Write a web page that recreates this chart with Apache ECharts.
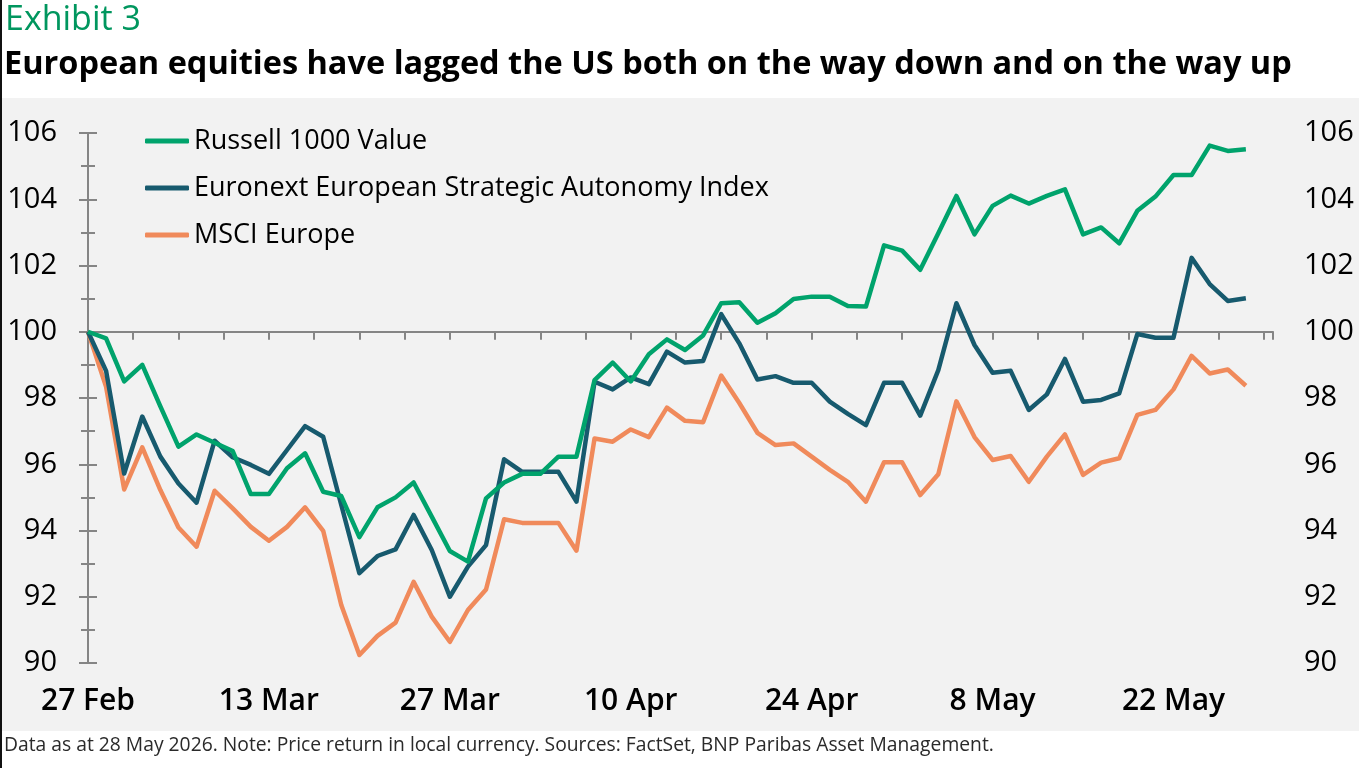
<!DOCTYPE html>
<html>
<head>
<meta charset="utf-8">
<script src="https://cdn.jsdelivr.net/npm/echarts@6/dist/echarts.min.js"></script>
<style>
  html, body { margin: 0; padding: 0; background: #fff; }
  #chart { width: 1359px; height: 768px; box-sizing: border-box; border-left: 2px solid #111; }
</style>
</head>
<body>
<div id="chart"></div>
<script>
// business days, 27 Feb - 29 May 2026 (last slot has no data)
const dates = [
    "27 Feb", "2 Mar", "3 Mar", "4 Mar", "5 Mar", "6 Mar", "9 Mar", "10 Mar", "11 Mar", "12 Mar",
    "13 Mar", "16 Mar", "17 Mar", "18 Mar", "19 Mar", "20 Mar", "23 Mar", "24 Mar", "25 Mar", "26 Mar",
    "27 Mar", "30 Mar", "31 Mar", "1 Apr", "2 Apr", "3 Apr", "6 Apr", "7 Apr", "8 Apr", "9 Apr",
    "10 Apr", "13 Apr", "14 Apr", "15 Apr", "16 Apr", "17 Apr", "20 Apr", "21 Apr", "22 Apr", "23 Apr",
    "24 Apr", "27 Apr", "28 Apr", "29 Apr", "30 Apr", "1 May", "4 May", "5 May", "6 May", "7 May",
    "8 May", "11 May", "12 May", "13 May", "14 May", "15 May", "18 May", "19 May", "20 May", "21 May",
    "22 May", "25 May", "26 May", "27 May", "28 May", "29 May"
];

const russell = [
    100.0, 99.8, 98.5, 99.0, 97.75, 96.53, 96.9, 96.65, 96.4, 95.1,
    95.1, 95.88, 96.33, 95.17, 95.04, 93.8, 94.7, 95.0, 95.45, 94.42,
    93.38, 93.06, 94.97, 95.45, 95.71, 95.71, 96.23, 96.23, 98.54, 99.07,
    98.5, 99.32, 99.77, 99.45, 99.89, 100.86, 100.89, 100.27, 100.56, 100.99,
    101.06, 101.06, 100.78, 100.76, 102.61, 102.45, 101.87, 102.97, 104.1, 102.94,
    103.8, 104.11, 103.87, 104.1, 104.3, 102.94, 103.15, 102.67, 103.65, 104.08,
    104.73, 104.73, 105.62, 105.46, 105.51
];

const euronext = [
    100.0, 98.82, 95.72, 97.44, 96.23, 95.42, 94.84, 96.71, 96.21, 95.98,
    95.71, 96.43, 97.15, 96.83, 94.77, 92.71, 93.23, 93.43, 94.47, 93.41,
    92.0, 92.91, 93.56, 96.15, 95.77, 95.77, 95.77, 94.87, 98.49, 98.26,
    98.62, 98.42, 99.4, 99.07, 99.12, 100.53, 99.65, 98.56, 98.66, 98.46,
    98.46, 97.89, 97.52, 97.18, 98.46, 98.46, 97.47, 98.84, 100.86, 99.6,
    98.76, 98.82, 97.64, 98.11, 99.18, 97.89, 97.94, 98.14, 99.93, 99.82,
    99.82, 102.23, 101.44, 100.93, 101.01
];

const msciEurope = [
    100.0, 98.34, 95.24, 96.51, 95.22, 94.09, 93.51, 95.2, 94.67, 94.11,
    93.69, 94.11, 94.7, 93.99, 91.75, 90.24, 90.82, 91.22, 92.45, 91.4,
    90.64, 91.6, 92.22, 94.34, 94.23, 94.23, 94.23, 93.39, 96.78, 96.68,
    97.05, 96.82, 97.71, 97.31, 97.27, 98.68, 97.85, 96.95, 96.58, 96.63,
    96.23, 95.83, 95.47, 94.87, 96.06, 96.06, 95.07, 95.7, 97.9, 96.82,
    96.13, 96.25, 95.47, 96.23, 96.9, 95.68, 96.05, 96.18, 97.49, 97.64,
    98.26, 99.27, 98.74, 98.86, 98.37
];

const seriesNames = ["Russell 1000 Value", "Euronext European Strategic Autonomy Index", "MSCI Europe"];
const seriesColors = ["#00a36c", "#175a6e", "#f08a5b"];
const yTicks = { min: 90, max: 106, step: 2 };

const FONT = "Open Sans";
const AXIS_GREY = "#858585";

// grid geometry, px
const gridTop = 133, gridBottom = 105, gridH = 768 - gridTop - gridBottom;
const crossAt = 100; // horizontal axis crosses the value axis here
const crossOffset = -(crossAt - yTicks.min) / (yTicks.max - yTicks.min) * gridH;

function toPoints(values) {
    return values.map((v, i) => [i, v]);
}

function valueAxis(position) {
    return {
        type: "value",
        position: position,
        min: yTicks.min,
        max: yTicks.max,
        interval: yTicks.step,
        axisLine: { show: true, lineStyle: { color: AXIS_GREY, width: 2 } },
        axisTick: { show: true, length: 9, lineStyle: { color: AXIS_GREY, width: 2 } },
        minorTick: { show: true, splitNumber: 2, length: 7, lineStyle: { color: AXIS_GREY, width: 2 } },
        splitLine: { show: false },
        axisLabel: { color: "#000", fontFamily: FONT, fontSize: 29, margin: 31 }
    };
}

const chart = echarts.init(document.getElementById("chart"), null, { renderer: "canvas" });

chart.setOption({
    animation: false,
    backgroundColor: "#fff",
    textStyle: { fontFamily: FONT },
    graphic: [
        {
            type: "rect",
            left: 0, top: 98, z: -10,
            shape: { width: 1359, height: 633 },
            style: { fill: "#f2f2f2" }
        },
        {
            type: "text",
            left: 3, top: 3,
            style: { text: "Exhibit 3", fill: "#00965e", font: "34px 'Open Sans'" }
        },
        {
            type: "text",
            left: 2, top: 48,
            style: {
                text: "European equities have lagged the US both on the way down and on the way up",
                fill: "#000", font: "bold 32.5px 'Open Sans'"
            }
        },
        {
            type: "text",
            left: 2, top: 736,
            style: {
                text: "Data as at 28 May 2026. Note: Price return in local currency. Sources: FactSet, BNP Paribas Asset Management.",
                fill: "#2a2a2a", font: "19.3px 'Open Sans'"
            }
        }
    ],
    legend: {
        orient: "vertical",
        left: 143, top: 126,
        padding: 0,
        icon: "roundRect",
        itemWidth: 44, itemHeight: 5,
        itemGap: 17,
        textStyle: { color: "#000", fontFamily: FONT, fontSize: 27, lineHeight: 30 },
        data: seriesNames
    },
    grid: { left: 86, right: 86, top: gridTop, bottom: gridBottom, containLabel: false },
    xAxis: [
        {
            // date labels along the bottom
            type: "value",
            min: 0, max: dates.length - 0.5,
            interval: 10,
            position: "bottom",
            axisLine: { show: false },
            axisTick: { show: false },
            splitLine: { show: false },
            axisLabel: {
                color: "#000", fontFamily: FONT, fontSize: 30, fontWeight: 600, margin: 23,
                formatter: (v) => (Number.isInteger(v) && v % 10 === 0 && dates[v]) ? dates[v] : ""
            }
        },
        {
            // the crossing line at 100, with its ticks
            type: "value",
            min: 0, max: dates.length - 0.5,
            interval: 2.5,
            position: "bottom",
            offset: crossOffset,
            axisLine: { show: true, lineStyle: { color: AXIS_GREY, width: 2 } },
            axisTick: { show: true, length: 8, lineStyle: { color: AXIS_GREY, width: 2 } },
            axisLabel: { show: false },
            splitLine: { show: false }
        }
    ],
    yAxis: [valueAxis("left"), valueAxis("right")],
    series: [russell, euronext, msciEurope].map((vals, k) => ({
        name: seriesNames[k],
        type: "line",
        xAxisIndex: 0,
        yAxisIndex: 0,
        data: toPoints(vals),
        symbol: "none",
        lineStyle: { color: seriesColors[k], width: 4.5, join: "round" },
        itemStyle: { color: seriesColors[k] },
        z: 10 - k
    }))
});
</script>
</body>
</html>
